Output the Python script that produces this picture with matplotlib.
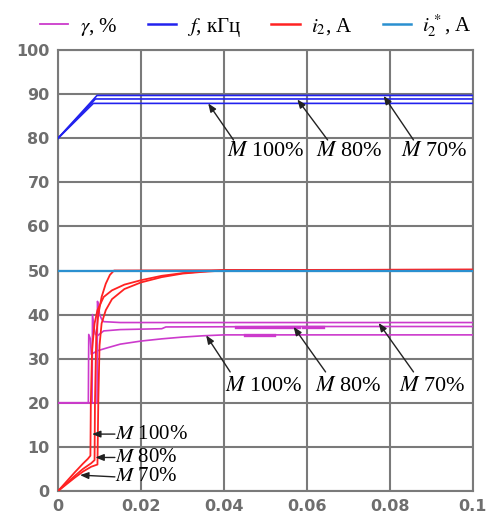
import matplotlib
matplotlib.use("Agg")
import matplotlib.pyplot as plt
from matplotlib.lines import Line2D

plt.rcParams['mathtext.fontset'] = 'stix'

# ---------------- data ----------------
# frequency f, kHz (three load levels)
f_t = {"M100": [0, 0.0085, 0.1], "M80": [0, 0.0090, 0.1], "M70": [0, 0.0094, 0.1]}
f_v = {"M100": [80, 87.9, 87.9], "M80": [80, 88.9, 88.9], "M70": [80, 89.7, 89.7]}

# reference current i2*, A
iref_t = [0, 0.1]
iref_v = [50, 50]

# current i2, A
i2_t = {
    "M100": [0, 0.002, 0.004, 0.006, 0.0072, 0.0078, 0.0079, 0.0082, 0.0088, 0.0095, 0.011, 0.013,
             0.016, 0.02, 0.025, 0.03, 0.035, 0.04, 0.1],
    "M80": [0, 0.002, 0.004, 0.006, 0.008, 0.0088, 0.0089, 0.0092, 0.0097, 0.0105, 0.0115, 0.0125,
            0.0135, 0.1],
    "M70": [0, 0.002, 0.004, 0.006, 0.008, 0.0095, 0.0097, 0.0100, 0.0105, 0.0115, 0.013, 0.016,
            0.02, 0.025, 0.03, 0.035, 0.04, 0.1],
}
i2_v = {
    "M100": [0, 2.1, 4.2, 6.2, 7.3, 8.0, 20, 32, 38, 41, 44, 45.5, 46.8, 47.8, 48.8, 49.4, 49.8, 50.1, 50.2],
    "M80": [0, 1.7, 3.4, 5.0, 6.3, 7.0, 20, 35, 40, 44, 47, 49, 50, 50.2],
    "M70": [0, 1.5, 3.0, 4.4, 5.5, 6.0, 20, 33, 38, 41, 43.5, 45.8, 47.3, 48.5, 49.3, 49.7, 50.0, 50.1],
}

# gamma, %
g_t = {
    "M100": [0, 0.0073, 0.0074, 0.0078, 0.0080, 0.0095, 0.012, 0.015, 0.02, 0.025, 0.03, 0.035, 0.04, 0.1],
    "M80": [0, 0.0082, 0.0083, 0.0087, 0.0090, 0.0095, 0.011, 0.015, 0.025, 0.026, 0.06, 0.1],
    "M70": [0, 0.0094, 0.0095, 0.0098, 0.0100, 0.0105, 0.011, 0.015, 0.1],
}
g_v = {
    "M100": [20, 20, 35.5, 34.5, 31, 31.8, 32.5, 33.3, 34.0, 34.5, 34.9, 35.2, 35.4, 35.4],
    "M80": [20, 20, 40, 37, 35.5, 35.2, 36.3, 36.6, 36.8, 37.2, 37.3, 37.3],
    "M70": [20, 20, 43, 42, 40, 39, 38.4, 38.2, 38.2],
}
# short thicker fragments visible on the gamma traces
g_frag_t = [[0.043, 0.058], [0.059, 0.064], [0.045, 0.052]]
g_frag_v = [[37.2, 37.2], [37.2, 37.2], [35.4, 35.4]]

x_ticks = [0, 0.02, 0.04, 0.06, 0.08, 0.1]
x_labels = ["0", "0.02", "0.04", "0.06", "0.08", "0.1"]
y_ticks = list(range(0, 101, 10))

# annotations: (text, text_xy, arrow_start, arrow_tip)
ann_f = [("100%", (0.0500, 76.9), (0.0423, 79.6), (0.0362, 87.9)),
         ("80%", (0.0703, 76.9), (0.0650, 79.6), (0.0577, 88.8)),
         ("70%", (0.0908, 76.9), (0.0857, 79.6), (0.0785, 89.6))]
ann_g = [("100%", (0.0495, 23.6), (0.0415, 27.0), (0.0357, 35.3)),
         ("80%", (0.0700, 23.6), (0.0645, 27.0), (0.0568, 37.2)),
         ("70%", (0.0903, 23.6), (0.0857, 27.0), (0.0773, 38.1))]
ann_i = [("100%", (0.0137, 12.9), (0.0082, 12.9)),
         ("80%", (0.0137, 7.6), (0.0090, 7.6)),
         ("70%", (0.0137, 3.2), (0.0053, 3.6))]

# ---------------- style ----------------
c_g = "#cc3acc"
c_f = "#2222ee"
c_i = "#ff2222"
c_r = "#2a90d0"
grey = "#7a7a7a"
serif = ["Liberation Serif", "DejaVu Serif"]

fig = plt.figure(figsize=(4.92, 5.2), dpi=100)
ax = fig.add_axes([0.118, 0.0558, 0.843, 0.848])

for k in ["M100", "M80", "M70"]:
    ax.plot(g_t[k], g_v[k], color=c_g, lw=1.2, zorder=3)
for xs, ys in zip(g_frag_t, g_frag_v):
    ax.plot(xs, ys, color=c_g, lw=2.4, zorder=3)
for k in ["M100", "M80", "M70"]:
    ax.plot(f_t[k], f_v[k], color=c_f, lw=1.2, zorder=3)
for k in ["M100", "M80", "M70"]:
    ax.plot(i2_t[k], i2_v[k], color=c_i, lw=1.3, zorder=3)
ax.plot(iref_t, iref_v, color=c_r, lw=1.6, zorder=3)

ax.set_xlim(0, 0.1)
ax.set_ylim(0, 100)
ax.set_xticks(x_ticks)
ax.set_xticklabels(x_labels)
ax.set_yticks(y_ticks)
ax.grid(True, color=grey, lw=1.5, zorder=1)
ax.set_axisbelow(True)
for s in ax.spines.values():
    s.set_color(grey)
    s.set_linewidth(1.5)
ax.tick_params(length=0, pad=6, labelsize=11.5, labelcolor="#6e6e6e")
for lab in ax.get_xticklabels() + ax.get_yticklabels():
    lab.set_fontweight("bold")

def arrow(start, tip):
    ax.annotate("", xy=tip, xytext=start,
                arrowprops=dict(arrowstyle="-|>,head_length=0.5,head_width=0.2",
                                color="#222222", lw=1.0, shrinkA=0, shrinkB=0), zorder=5)

for txt, pos, st, tip in ann_f + ann_g:
    ax.text(pos[0], pos[1], r"$M$ " + txt, ha="center", va="center", fontsize=16,
            family=serif, zorder=6)
    arrow(st, tip)
for txt, pos, tip in ann_i:
    ax.text(pos[0], pos[1], r"$M$ " + txt, ha="left", va="center", fontsize=15,
            family=serif, zorder=6)
    arrow(pos, tip)

handles = [Line2D([], [], color=c_g, lw=1.3), Line2D([], [], color=c_f, lw=1.8),
           Line2D([], [], color=c_i, lw=1.8), Line2D([], [], color=c_r, lw=1.8)]
labels = [r"$\gamma$, %", r"$f$, кГц", r"$i_2$, А", r"$i_2^{\,*}$, А"]
fig.legend(handles, labels, loc="upper center", bbox_to_anchor=(0.52, 1.012), ncol=4,
           frameon=False, handlelength=1.35, columnspacing=1.45, handletextpad=0.55,
           prop={"family": serif, "size": 15})

fig.savefig("out.png", dpi=100)
